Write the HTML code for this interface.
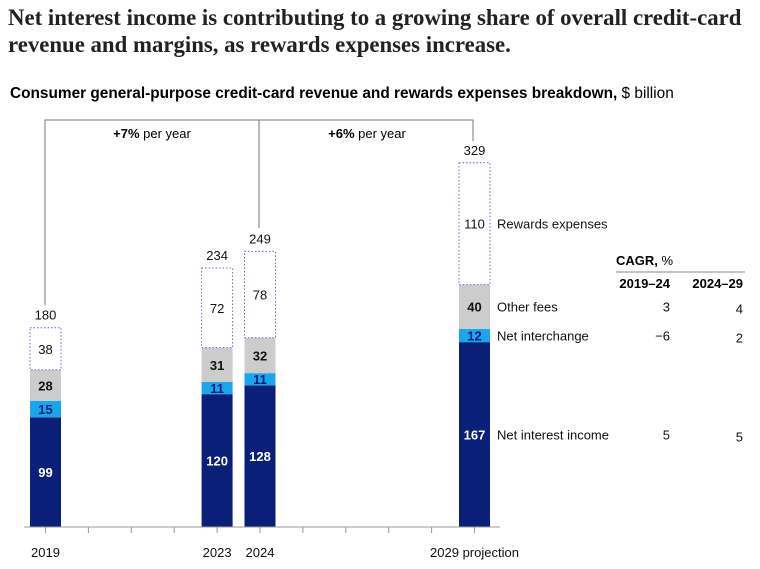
<!DOCTYPE html>
<html><head><meta charset="utf-8"><style>
body{margin:0;background:#fff;width:760px;height:564px;overflow:hidden;font-family:"Liberation Sans",sans-serif}
svg text{font-family:"Liberation Sans",sans-serif}
</style></head><body>
<svg width="760" height="564" xmlns="http://www.w3.org/2000/svg">
<text x="8" y="25" font-weight="bold" font-size="22.8" fill="#222" style="font-family:'Liberation Serif',serif">Net interest income is contributing to a growing share of overall credit-card</text>
<text x="8" y="52" font-weight="bold" font-size="22.8" fill="#222" style="font-family:'Liberation Serif',serif">revenue and margins, as rewards expenses increase.</text>
<text x="10" y="98" font-size="15.4" fill="#000"><tspan font-weight="bold">Consumer general-purpose credit-card revenue and rewards expenses breakdown,</tspan> $ billion</text>
<g id="bracket">
<polyline points="45,305 45,120 473,120 473,141" fill="none" stroke="#777" stroke-width="1"/>
<line x1="259" y1="120" x2="259" y2="228" stroke="#777"/>
<text x="152" y="138" text-anchor="middle" font-size="13"><tspan font-weight="bold">+7%</tspan> per year</text>
<text x="367" y="138" text-anchor="middle" font-size="13"><tspan font-weight="bold">+6%</tspan> per year</text>
</g>
<g id="bars"></g>
<g id="axis"></g>
<g id="legend"></g>
<g font-size="13">
<text x="616" y="265"><tspan font-weight="bold">CAGR,</tspan> %</text>
<line x1="616" y1="272" x2="745" y2="272" stroke="#888"/>
<text x="670" y="288" text-anchor="end" font-weight="bold">2019–24</text>
<text x="743" y="288" text-anchor="end" font-weight="bold">2024–29</text>
</g>
</svg>
<script>
const years=["2019","2023","2024","2029 projection"];
const yearIdx=[0,4,5,10];
const nii=[99,120,128,167];
const interchange=[15,11,11,12];
const fees=[28,31,32,40];
const rewards=[38,72,78,110];
const totals=[180,234,249,329];
const seriesNames=["Net interest income","Net interchange","Other fees","Rewards expenses"];
const cagr1=["5","−6","3",""];
const cagr2=["5","2","4",""];
const NS="http://www.w3.org/2000/svg";
const base=527,k=1.107,bw=31;
const y=v=>base-v*k;
const xc=i=>45.5+i*42.9;
function mk(t,a,p){const e=document.createElementNS(NS,t);for(const q in a)e.setAttribute(q,a[q]);(p||document.getElementById('bars')).appendChild(e);return e;}
const series=[nii,interchange,fees,rewards];
const fills=["#0a1f78","#1ba6ec","#cccccc","#fff"];
const tc=["#fff","#0a1f78","#111","#111"];
years.forEach((yr,j)=>{
  const cx=xc(yearIdx[j]);let cum=0;
  series.forEach((s,si)=>{
    const v=s[j],y0=y(cum),y1=y(cum+v);
    const r=mk('rect',{x:cx-bw/2,y:y1,width:bw,height:y0-y1,fill:fills[si]});
    if(si===3){r.setAttribute('stroke','#5b6fbf');r.setAttribute('stroke-dasharray','1.5,2');r.setAttribute('stroke-width','1');}
    
    
    const t=mk('text',{x:cx,y:(y0+y1)/2+5,'text-anchor':'middle','font-size':'13',fill:tc[si],'font-weight':si<3?'bold':'normal'});
    t.textContent=v;
    
    
    cum+=v;
  });
  const tt=mk('text',{x:cx,y:y(totals[j])-8,'text-anchor':'middle','font-size':'13',fill:'#111'});
  tt.textContent=totals[j];
  
  
});
const ax=document.getElementById('axis');
const bl=mk('line',{x1:24,x2:500,y1:base,y2:base,stroke:'#999'},ax);


for(let i=0;i<=10;i++){const l=mk('line',{x1:xc(i),x2:xc(i),y1:base,y2:base+6,stroke:'#999'},ax);

}
years.forEach((yr,j)=>{const t=mk('text',{x:xc(yearIdx[j]),y:557,'text-anchor':'middle','font-size':'13',fill:'#111'},ax);t.textContent=yr;

});
const lg=document.getElementById('legend');
let cum=0;const L=3;
series.forEach((s,si)=>{const v=s[L];const ym=y(cum+v/2);cum+=v;
  const t=mk('text',{x:497,y:ym+5,'font-size':'13',fill:'#111'},lg);t.textContent=seriesNames[si];
  
  
  if(cagr1[si]!==""){
    const a=mk('text',{x:670,y:ym+5,'text-anchor':'end','font-size':'13',fill:'#111'},lg);a.textContent=cagr1[si];
    
    
    const b=mk('text',{x:743,y:ym+7,'text-anchor':'end','font-size':'13',fill:'#111'},lg);b.textContent=cagr2[si];
    
    
  }
});
</script>
</body></html>
